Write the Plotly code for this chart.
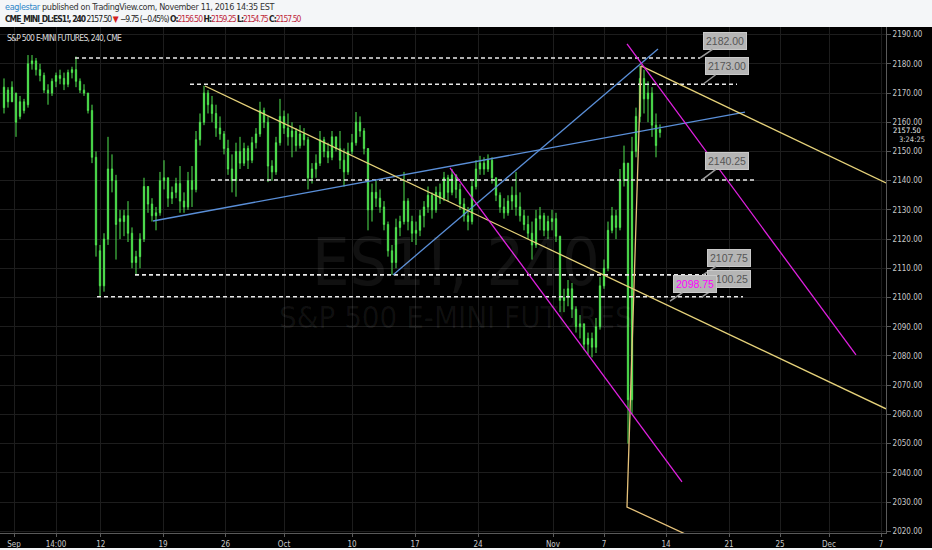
import plotly.graph_objects as go

# ---------------- data ----------------
opens = [2165,2171,2167,2170,2162,2167,2166,2180,2181,2178,2176,2171,2170,2174,2176,2175,2173,2177,2178,2174,
         2171,2170,2164,2148,2116,2104,2120,2144,2140,2127,2126,2128,2122,2112,2114,2120,2138,2132,2128,2129,
         2140,2141,2134,2136,2139,2133,2131,2140,2137,2154,2160,2170,2166,2163,2158,2156,2151,2144,2140,2150,
         2146,2151,2147,2153,2156,2164,2160,2145,2143,2153,2162,2158,2155,2157,2152,2156,2154,2141,2144,2146,
         2154,2150,2148,2155,2151,2147,2143,2150,2153,2160,2157,2151,2130,2136,2134,2131,2125,2116,2112,2124,
         2126,2133,2126,2122,2123,2128,2131,2135,2130,2136,2134,2141,2136,2142,2137,2132,2128,2126,2138,2144,
         2146,2144,2147,2141,2135,2131,2129,2133,2135,2131,2128,2125,2122,2118,2127,2128,2123,2126,2127,2121,
         2099,2100,2103,2096,2090,2091,2084,2086,2083,2090,2104,2110,2123,2128,2124,2140,2146,2065,2150,2162,
         2175,2168,2170,2159,2156.5]
highs = [2175,2172,2174,2170,2169,2168,2183,2183,2182,2180,2177,2173,2175,2177,2178,2177,2178,2179,2182.5,2175,
         2173,2170,2166,2150,2118,2122,2155,2149,2142,2130,2130,2133,2124,2116,2122,2141,2138,2134,2131,2143,
         2147,2141,2138,2141,2145,2136,2143,2145,2157,2163,2172.5,2171,2169,2166,2162,2157,2154,2149,2153,2155,
         2153,2152,2155,2158,2167,2165,2162,2147,2155,2168,2164,2163,2160,2158,2159,2158,2155,2146,2149,2157,
         2155,2153,2157,2155,2157,2151,2153,2156,2163.5,2162,2158,2151,2139,2140,2137,2133,2126,2118,2127,2128,
         2143,2134,2128,2126,2130,2133,2138,2136,2138,2139,2143,2142,2144,2142,2139,2134,2131,2140,2147,2148.5,
         2148,2149,2148,2141,2136,2134,2135,2138,2143,2136,2130,2128,2126,2130,2131,2129,2128,2130,2129,2121,
         2103,2106,2105,2097,2094,2091,2088,2088,2093,2107,2113,2126,2131,2130,2144,2152,2146,2155,2165,2179.3,
         2178,2174,2172,2163,2159.25]
lows = [2163,2165,2167,2155,2161,2163,2165,2178,2176,2174,2170,2166,2169,2172,2173,2171,2172,2175,2172,2170,
        2169,2163,2146,2114,2100.25,2102,2118,2136,2113,2120,2121,2119,2110,2107.75,2110,2119,2129,2126,2123,2128,
        2137,2131,2132,2134,2129,2129,2130,2131,2136,2152,2159,2163,2160,2155,2154,2149,2142,2136,2134.5,2144,
        2145,2144,2146,2151,2155,2158,2139.5,2140,2142,2152,2156,2152,2148,2150,2151,2152,2137,2139,2141,2145,
        2148,2146,2147,2150,2144,2138,2142,2149,2152,2155,2149,2123,2126,2131,2129,2123,2114,2107.75,2110,2121,
        2125,2123,2119,2118,2121,2124,2129,2127,2129,2132,2133,2133,2135,2134,2130,2126,2123,2125,2137,2142,
        2142,2143,2139,2133,2129,2127,2128,2130,2128,2126,2123,2120,2113,2117,2123,2121,2120,2123,2119,2095,
        2095,2097,2093,2088,2086,2082,2080.5,2079.5,2081,2089,2103,2109,2122,2120,2123,2138,2050,2060,2148,2160,
        2163,2160,2155,2148,2154.75]
closes = [2172,2167,2172,2160,2167,2164,2180,2181,2178,2176,2171,2170,2174,2176,2175,2173,2177,2178,2174,2171,
          2170,2164,2148,2118,2104,2120,2144,2140,2125,2126,2128,2122,2112,2114,2120,2138,2132,2128,2129,2140,
          2141,2134,2136,2139,2133,2131,2140,2137,2154,2160,2170,2166,2163,2158,2156,2151,2144,2140,2150,2146,
          2151,2147,2153,2156,2164,2160,2145,2143,2153,2162,2158,2155,2157,2152,2156,2154,2141,2144,2146,2154,
          2150,2148,2155,2151,2147,2143,2150,2153,2160,2157,2151,2130,2136,2134,2131,2125,2116,2112,2124,2126,
          2133,2126,2122,2123,2128,2131,2135,2130,2136,2134,2141,2136,2142,2137,2132,2128,2126,2138,2144,2146,
          2144,2147,2141,2135,2131,2129,2133,2135,2131,2128,2125,2122,2118,2127,2128,2123,2126,2127,2121,2099,
          2100,2103,2096,2090,2091,2084,2086,2083,2090,2104,2110,2123,2128,2124,2140,2146,2065,2150,2162,2175,
          2168,2170,2159,2152,2157.5]
bar_idx = list(range(len(opens)))

# time axis labels (bar-index positions)
tick_pos = [2.5, 13, 24.2, 39.75, 55.4, 70, 87, 102.75, 118.5, 137.25, 150, 165.5, 181.25, 194, 206.25, 219.25]
tick_text = ["Sep", "14:00", "12", "19", "26", "Oct", "10", "17", "24", "Nov", "7", "14", "21", "25", "Dec", "7"]

# horizontal support / resistance levels
level_price = [2182.00, 2173.00, 2140.25, 2107.75, 2100.25]
level_start = [17.75, 46.5, 51.75, 32.75, 23.25]
level_end = [174, 183.25, 187.75, 177, 184.75]

# drawn trend lines: (bar-index list, price list)
blue_long_x, blue_long_y = [37.25, 185.25], [2126.2, 2163.5]
blue_steep_x, blue_steep_y = [97.25, 163.5], [2107.75, 2185.1]
yellow_long_x, yellow_long_y = [50.25, 220.5], [2172.4, 2061.9]
yellow_top_x, yellow_top_y = [159.25, 220.5], [2179.3, 2139.2]
yellow_v_x, yellow_v_y = [159.25, 155.75, 171.5], [2179.3, 2028.3, 2018.3]
mag1_x, mag1_y = [155.75, 213], [2186.8, 2080.35]
mag2_x, mag2_y = [111.5, 169.5], [2144.4, 2036.9]

# price callouts
label_text = ["2182.00", "2173.00", "2140.25", "2107.75", "2100.25", "2098.75"]
label_price = [2182.00, 2173.00, 2140.25, 2107.75, 2100.25, 2098.75]
label_x = [174, 174.75, 174.5, 174.75, 174.5, 166.5]
label_font = ["#555555"] * 5 + ["#ff00ff"]
label_off = [(25, -17), (24, -18), (25, -19), (26, -17), (27, -18), (25, -17)]

NARROW = "Liberation Sans Narrow, DejaVu Sans Condensed, Arial Narrow, sans-serif"
T1 = "letter-spacing:-0.35px"
T2 = "letter-spacing:-1px"

fig = go.Figure()

fig.add_trace(go.Candlestick(
    x=bar_idx, open=opens, high=highs, low=lows, close=closes,
    increasing=dict(line=dict(color="#50e450", width=1), fillcolor="#50e450"),
    decreasing=dict(line=dict(color="#50e450", width=1), fillcolor="#1f8a1f"),
    whiskerwidth=0, hoverinfo="skip", showlegend=False))

for p, a, b in zip(level_price, level_start, level_end):
    fig.add_trace(go.Scatter(x=[a, b], y=[p, p], mode="lines",
                             line=dict(color="#e8e8e8", width=1.6, dash="4px,3px"),
                             hoverinfo="skip", showlegend=False))

for xs, ys, col in [(blue_long_x, blue_long_y, "#5a8fd8"), (blue_steep_x, blue_steep_y, "#5a8fd8"),
                    (yellow_long_x, yellow_long_y, "#e6d27a"), (yellow_top_x, yellow_top_y, "#e6d27a"),
                    (yellow_v_x, yellow_v_y, "#e6c27a"),
                    (mag1_x, mag1_y, "#e020e0"), (mag2_x, mag2_y, "#e020e0")]:
    fig.add_trace(go.Scatter(x=xs, y=ys, mode="lines", line=dict(color=col, width=1.3),
                             hoverinfo="skip", showlegend=False))

annotations = []
# watermark
annotations.append(dict(xref="paper", yref="paper", x=0.515, y=0.535, text="ES1!, 240", showarrow=False,
                        font=dict(family=NARROW, size=66, color="rgba(255,255,255,0.065)")))
annotations.append(dict(xref="paper", yref="paper", x=0.515, y=0.427, text="S&P 500 E-MINI FUTURES", showarrow=False,
                        font=dict(family=NARROW, size=31, color="rgba(255,255,255,0.065)")))

for t, p, x, fc, (ax, ay) in zip(label_text, label_price, label_x, label_font, label_off):
    annotations.append(dict(x=x, y=p, xref="x", yref="y", text=t, showarrow=True, arrowhead=0,
                            arrowwidth=1.5, arrowcolor="#9a9a9a", ax=ax, ay=ay, axref="pixel", ayref="pixel",
                            bgcolor="#b5b5b5", bordercolor="#cacaca", borderwidth=1, borderpad=2,
                            font=dict(family="Liberation Sans, Arial, sans-serif", size=10.5, color=fc)))

# header
annotations.append(dict(xref="paper", yref="paper", x=0.0034, y=1 + 20 / 506, xanchor="left", yanchor="middle",
                        showarrow=False,
                        text=(f"<span style='{T1}'><span style='color:#2f86c8'>eaglestar</span> "
                              "published on TradingView.com, November 11, 2016 14:35 EST</span>"),
                        font=dict(family=NARROW, size=9, color="#333333")))
annotations.append(dict(xref="paper", yref="paper", x=0.0034, y=1 + 8 / 506, xanchor="left", yanchor="middle",
                        showarrow=False,
                        text=(f"<span style='{T2}'><b>CME_MINI_DL:ES1!, 240</b></span>"
                              f"<span style='{T2}'> 2157.50 </span><span style='color:#d42020'>▼</span>"
                              f"<span style='{T2}'> −9.75 (−0.45%) </span>"
                              f"<span style='{T2}'><b>O:</b></span><span style='color:#c0283c;{T2}'>2156.50</span>"
                              f"<span style='{T2}'> <b>H:</b></span><span style='color:#c0283c;{T2}'>2159.25</span>"
                              f"<span style='{T2}'> <b>L:</b></span><span style='color:#c0283c;{T2}'>2154.75</span>"
                              f"<span style='{T2}'> <b>C:</b></span><span style='color:#c0283c;{T2}'>2157.50</span>"),
                        font=dict(family=NARROW, size=8.5, color="#222222")))
annotations.append(dict(xref="paper", yref="paper", x=0.0056, y=1 - 11 / 506, xanchor="left", yanchor="middle",
                        showarrow=False,
                        text="<span style='letter-spacing:-0.75px'>S&P 500 E-MINI FUTURES, 240, CME</span>",
                        font=dict(family=NARROW, size=8.5, color="#dddddd")))
# last price / countdown on price scale
annotations.append(dict(xref="paper", yref="y", x=1 + 5 / 886, y=closes[-1], yshift=-1, xanchor="left",
                        yanchor="middle", showarrow=False, text="2157.50",
                        font=dict(family=NARROW, size=7.5, color="#f0f0f0")))
annotations.append(dict(xref="paper", yref="y", x=1 + 11 / 886, y=closes[-1], yshift=-10, xanchor="left",
                        yanchor="middle", showarrow=False, text="3:24:25",
                        font=dict(family=NARROW, size=7.5, color="#cfcfcf")))

shapes = [
    dict(type="rect", xref="paper", yref="paper", x0=-0.01, x1=1.06, y0=1.0, y1=1.06,
         fillcolor="#f4f6f8", line=dict(width=0), layer="below"),
    dict(type="rect", xref="paper", yref="paper", x0=-0.01, x1=1.06, y0=-0.04, y1=-0.0296,
         fillcolor="#f4f6f8", line=dict(width=0), layer="below"),
]

fig.update_layout(
    width=932, height=550,
    margin=dict(l=0, r=46, t=27, b=17),
    paper_bgcolor="#000000", plot_bgcolor="#000000",
    showlegend=False, hovermode=False, boxgap=0.55,
    annotations=annotations, shapes=shapes,
    xaxis=dict(range=[-1, 220.5], tickmode="array", tickvals=tick_pos, ticktext=tick_text,
               showgrid=True, gridcolor="#1d1d1d", gridwidth=1, zeroline=False,
               showline=True, linecolor="#5a5a5a", ticks="outside", ticklen=3, tickcolor="#5a5a5a",
               tickfont=dict(family=NARROW, size=8, color="#c8c8c8"), rangeslider=dict(visible=False)),
    yaxis=dict(side="right", range=[2019.4, 2192.6], tick0=2020, dtick=10, tickformat=".2f",
               showgrid=True, gridcolor="#1d1d1d", gridwidth=1, zeroline=False,
               showline=True, linecolor="#5a5a5a", ticks="outside", ticklen=4, tickcolor="#5a5a5a",
               tickfont=dict(family=NARROW, size=8, color="#c8c8c8")),
)

fig.write_html("out.html", config={"displayModeBar": False},
               post_script="document.body.style.margin='0';document.body.style.overflow='hidden';")
